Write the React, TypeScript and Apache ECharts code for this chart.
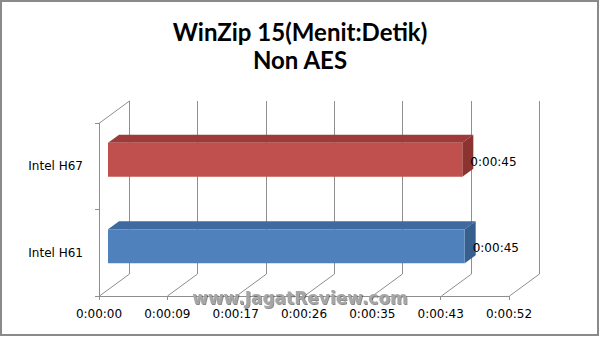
import React, { useEffect, useRef } from "react";
import * as echarts from "echarts";

const titleLines = ["WinZip 15(Menit:Detik)", "Non AES"];
const categories = ["Intel H61", "Intel H67"];
const timesSec = [45.1, 44.8];
const axisMax = 51.84;
const axisStep = 8.64;
const watermark = "www.JagatReview.com";

const frontColors = ["#4F81BD", "#C0504D"];
const topColors = ["#3E6AA0", "#9E3B3A"];
const sideColors = ["#375F8E", "#8B3331"];

const GRID = "#8E8E8E";
const DX = 30;
const DY = -22;

function fmt(s: number): string {
  const t = Math.round(s);
  const h = Math.floor(t / 3600);
  const m = Math.floor((t % 3600) / 60);
  const sec = t % 60;
  return `${h}:${String(m).padStart(2, "0")}:${String(sec).padStart(2, "0")}`;
}

const tickValues: number[] = [];
for (let i = 0; i * axisStep <= axisMax + 1e-6; i++) tickValues.push(+(i * axisStep).toFixed(4));

export default function App() {
  const ref = useRef<HTMLDivElement>(null);
  useEffect(() => {
    document.body.style.margin = "0";
    const chart = echarts.init(ref.current!, undefined, { renderer: "svg" });
    const font = "DejaVu Sans";
    chart.setOption({
      animation: false,
      backgroundColor: "#fff",
      title: {
        text: titleLines.join("\n"),
        left: "center",
        top: 12,
        textStyle: { fontFamily: "Lato", fontWeight: "bold", fontSize: 24, lineHeight: 28, color: "#000" },
      },
      grid: { left: 99, right: 91, top: 123, bottom: 41, containLabel: false },
      xAxis: {
        type: "value",
        min: 0,
        max: axisMax,
        interval: axisStep,
        axisLine: { show: true, lineStyle: { color: GRID, width: 1 } },
        axisTick: { show: true, length: 4, lineStyle: { color: GRID } },
        splitLine: { show: false },
        axisLabel: { formatter: (v: number) => fmt(v), color: "#000", fontFamily: font, fontSize: 12, margin: 12 },
      },
      yAxis: {
        type: "category",
        data: categories,
        axisLine: { show: true, lineStyle: { color: GRID, width: 1 } },
        axisTick: { show: true, length: 4, lineStyle: { color: GRID } },
        splitLine: { show: false },
        axisLabel: { color: "#000", fontFamily: font, fontSize: 12, margin: 16 },
      },
      series: [
        {
          type: "custom",
          coordinateSystem: "cartesian2d",
          silent: true,
          z: 1,
          data: tickValues.map((v) => [v, 0]),
          encode: { x: 0, y: 1 },
          renderItem: (params: any, api: any) => {
            const cs = params.coordSys;
            const top = cs.y;
            const bottom = cs.y + cs.height;
            const x = Math.round(api.coord([api.value(0), 0])[0]) + 0.5;
            const st = { stroke: GRID, lineWidth: 1, fill: "none" };
            const children: any[] = [
              { type: "line", shape: { x1: x, y1: bottom, x2: x + DX, y2: bottom + DY }, style: st },
              { type: "line", shape: { x1: x + DX, y1: bottom + DY, x2: x + DX, y2: top + DY }, style: st },
            ];
            if (params.dataIndex === 0) {
              children.push({ type: "line", shape: { x1: x, y1: top, x2: x + DX, y2: top + DY }, style: st });
            }
            return { type: "group", children };
          },
        },
        {
          type: "custom",
          coordinateSystem: "cartesian2d",
          silent: true,
          z: 5,
          data: timesSec.map((v, i) => [v, i]),
          encode: { x: 0, y: 1 },
          renderItem: (params: any, api: any) => {
            const v = api.value(0);
            const cat = api.value(1);
            const i = params.dataIndex;
            const p0 = api.coord([0, cat]);
            const p1 = api.coord([v, cat]);
            const band = api.size([0, 1])[1];
            const h = band * 0.393;
            const fx = 9;
            const fy = -6.5;
            const bd = 11;
            const bdy = -8;
            const x0 = p0[0] + fx;
            const x1 = p1[0] + fx;
            const yc = p0[1] + fy;
            const yT = yc - h / 2;
            const yB = yc + h / 2;
            return {
              type: "group",
              children: [
                {
                  type: "polygon",
                  shape: { points: [[x0, yT], [x1, yT], [x1 + bd, yT + bdy], [x0 + bd, yT + bdy]] },
                  style: { fill: topColors[i] },
                },
                {
                  type: "polygon",
                  shape: { points: [[x1, yT], [x1 + bd, yT + bdy], [x1 + bd, yB + bdy], [x1, yB]] },
                  style: { fill: sideColors[i] },
                },
                {
                  type: "rect",
                  shape: { x: x0, y: yT, width: x1 - x0, height: h },
                  style: { fill: frontColors[i] },
                },
                {
                  type: "text",
                  z2: 10,
                  style: {
                    text: fmt(v),
                    x: x1 + 8,
                    y: yc + 2,
                    align: "left",
                    verticalAlign: "middle",
                    fill: "#000",
                    font: `12px "${font}"`,
                  },
                },
              ],
            };
          },
        },
      ],
      graphic: [
        {
          type: "text",
          z: 100,
          left: "center",
          top: 289,
          style: {
            text: watermark,
            fill: "#a6a6a6",
            font: `bold 17px "DejaVu Sans"`,
            textShadowColor: "rgba(60,60,60,0.6)",
            textShadowBlur: 1,
            textShadowOffsetX: 1,
            textShadowOffsetY: 1,
          },
        },
        {
          type: "rect",
          z: 100,
          shape: { x: 1, y: 1, width: 597, height: 334 },
          style: { fill: "none", stroke: "#8a8a8a", lineWidth: 2 },
        },
      ],
    });
    return () => chart.dispose();
  }, []);
  return <div ref={ref} style={{ width: 600, height: 337 }} />;
}
